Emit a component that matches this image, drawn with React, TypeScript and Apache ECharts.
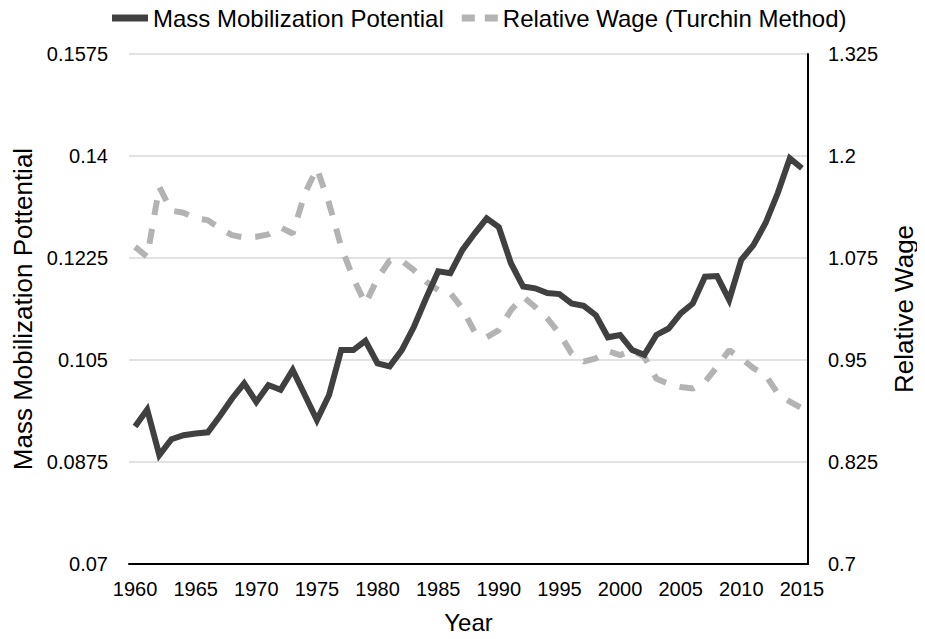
import React, { useEffect, useRef } from "react";
import * as echarts from "echarts";

const years = [
  "1960","1961","1962","1963","1964","1965","1966","1967","1968","1969",
  "1970","1971","1972","1973","1974","1975","1976","1977","1978","1979",
  "1980","1981","1982","1983","1984","1985","1986","1987","1988","1989",
  "1990","1991","1992","1993","1994","1995","1996","1997","1998","1999",
  "2000","2001","2002","2003","2004","2005","2006","2007","2008","2009",
  "2010","2011","2012","2013","2014","2015",
];

const massMobilization = [
  0.0936, 0.0965, 0.0887, 0.0914, 0.0921, 0.0924, 0.0926, 0.0954, 0.0984, 0.101,
  0.0978, 0.1007, 0.0999, 0.1033, 0.099, 0.0947, 0.099, 0.1067, 0.1067, 0.1083,
  0.1044, 0.1039, 0.1067, 0.1107, 0.1156, 0.1202, 0.1199, 0.1239, 0.1267, 0.1293,
  0.1278, 0.1216, 0.1176, 0.1173, 0.1165, 0.1163, 0.1147, 0.1143, 0.1127, 0.1089,
  0.1093, 0.1067, 0.1059, 0.1093, 0.1104, 0.113, 0.1147, 0.1193, 0.1194, 0.1153,
  0.1222, 0.1247, 0.1285, 0.1336, 0.1396, 0.1379,
];

const relativeWage = [
  1.0887, 1.0765, 1.162, 1.133, 1.1305, 1.1235, 1.1214, 1.111, 1.103, 1.1,
  1.101, 1.104, 1.1125, 1.105, 1.154, 1.1847, 1.142, 1.0887, 1.05, 1.019,
  1.05, 1.072, 1.0715, 1.06, 1.046, 1.0357, 1.032, 1.013, 0.9846, 0.978,
  0.9867, 1.011, 1.0275, 1.015, 1.001, 0.9826, 0.958, 0.948, 0.952, 0.961,
  0.956, 0.962, 0.954, 0.927, 0.921, 0.917, 0.915, 0.923, 0.942, 0.962,
  0.952, 0.94, 0.9315, 0.909, 0.899, 0.8907,
];

const seriesNames = ["Mass Mobilization Potential", "Relative Wage (Turchin Method)"];
const axisTitles = { x: "Year", left: "Mass Mobilization Pottential", right: "Relative Wage" };

const FONT = "'Liberation Sans', Arial, Helvetica, sans-serif";

export default function App() {
  const ref = useRef<HTMLDivElement>(null);

  useEffect(() => {
    if (!ref.current) return;
    const chart = echarts.init(ref.current, null, { renderer: "svg" });
    const fmt = (v: number) => String(parseFloat(v.toFixed(5)));
    chart.setOption({
      animation: false,
      textStyle: { fontFamily: FONT },
      legend: {
        top: 1,
        left: 107,
        itemWidth: 36,
        itemHeight: 7,
        itemGap: 18,
        textStyle: { fontFamily: FONT, fontSize: 24, color: "#000" },
        data: [
          { name: seriesNames[0], icon: "rect", itemStyle: { color: "#404040" } },
          {
            name: seriesNames[1],
            icon: "path://M0,0h13v7h-13zM23,0h13v7h-13z",
            itemStyle: { color: "#b3b3b3" },
          },
        ],
      },
      grid: { left: 129, right: 117, top: 54, bottom: 75, containLabel: false },
      xAxis: {
        type: "category",
        data: years,
        boundaryGap: true,
        name: axisTitles.x,
        nameLocation: "middle",
        nameGap: 46,
        nameTextStyle: { fontFamily: FONT, fontSize: 24, color: "#000" },
        axisLine: { show: true, lineStyle: { color: "#000", width: 2 } },
        axisTick: { show: false },
        axisLabel: { interval: 4, fontFamily: FONT, fontSize: 20, color: "#000", margin: 15 },
        splitLine: { show: false },
      },
      yAxis: [
        {
          type: "value",
          min: 0.07,
          max: 0.1575,
          interval: 0.0175,
          position: "left",
          name: axisTitles.left,
          nameLocation: "middle",
          nameRotate: 90,
          nameGap: 90,
          nameTextStyle: { fontFamily: FONT, fontSize: 26, color: "#000" },
          axisLine: { show: false },
          axisTick: { show: false },
          axisLabel: { fontFamily: FONT, fontSize: 20, color: "#000", margin: 21, formatter: fmt },
          splitLine: { show: true, lineStyle: { color: "#d9d9d9", width: 1.5 } },
        },
        {
          type: "value",
          min: 0.7,
          max: 1.325,
          interval: 0.125,
          position: "right",
          name: axisTitles.right,
          nameLocation: "middle",
          nameRotate: 90,
          nameGap: 83,
          nameTextStyle: { fontFamily: FONT, fontSize: 26, color: "#000" },
          axisLine: { show: true, lineStyle: { color: "#000", width: 2 } },
          axisTick: { show: false },
          axisLabel: { fontFamily: FONT, fontSize: 20, color: "#000", margin: 20, formatter: fmt },
          splitLine: { show: false },
        },
      ],
      series: [
        {
          name: seriesNames[0],
          type: "line",
          yAxisIndex: 0,
          data: massMobilization,
          symbol: "none",
          lineStyle: { color: "#404040", width: 6, join: "miter" },
          itemStyle: { color: "#404040" },
          z: 3,
        },
        {
          name: seriesNames[1],
          type: "line",
          yAxisIndex: 1,
          data: relativeWage,
          symbol: "none",
          lineStyle: { color: "#b3b3b3", width: 6, type: [15, 14] },
          itemStyle: { color: "#b3b3b3" },
          z: 2,
        },
      ],
    });
    return () => chart.dispose();
  }, []);

  return <div ref={ref} style={{ width: 925, height: 639, margin: -8 }} />;
}
